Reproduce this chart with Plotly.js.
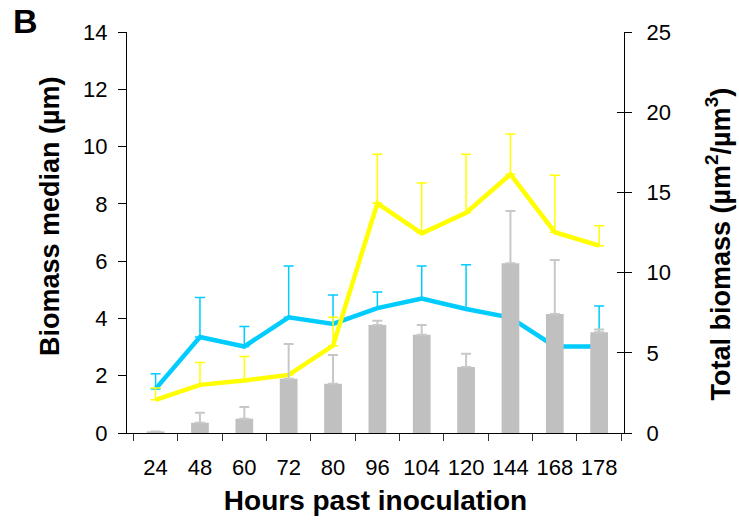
<!DOCTYPE html>
<html>
<head>
<meta charset="utf-8">
<script src="https://cdn.plot.ly/plotly-3.0.1.min.js"></script>
<style>html,body{margin:0;padding:0;background:#fff;}#chart{width:739px;height:528px;}</style>
</head>
<body>
<div id="chart"></div>
<script>
// Categories: hours past inoculation
var hours = ["24", "48", "60", "72", "80", "96", "104", "120", "144", "168", "178"];

// Total biomass (right axis, grey bars) and upper error
var totalBiomass    = [0.10, 0.64, 0.89, 3.38, 3.07, 6.74, 6.12, 4.11, 10.58, 7.42, 6.28];
var totalBiomassErr = [0.00, 0.62, 0.73, 2.17, 1.80, 0.26, 0.62, 0.83, 3.26, 3.37, 0.17];

// Biomass median (left axis), cyan series and upper error
var medianCyan    = [1.54, 3.35, 3.02, 4.04, 3.81, 4.36, 4.69, 4.33, 4.03, 3.02, 3.02];
var medianCyanErr = [0.53, 1.38, 0.70, 1.79, 1.01, 0.56, 1.14, 1.54, 1.39, 0.00, 1.41];

// Biomass median (left axis), yellow series and upper error
var medianYellow    = [1.16, 1.68, 1.83, 2.03, 3.05, 8.02, 6.97, 7.69, 9.03, 7.01, 6.54];
var medianYellowErr = [0.41, 0.78, 0.84, 0.00, 0.99, 1.71, 1.76, 2.04, 1.41, 1.99, 0.70];

// Text
var xTitle = "Hours past inoculation";
var yTitleLeft = "Biomass median (µm)";
var yTitleRight = "Total biomass (µm<sup>2</sup>/µm<sup>3</sup>)";
var panelLabel = "B";

function zeros(n){ var a=[]; for(var i=0;i<n;i++) a.push(0); return a; }

var traces = [
  {
    type: "bar", x: hours, y: totalBiomass, yaxis: "y2",
    marker: {color: "#C0C0C0"},
    error_y: {type: "data", symmetric: false, array: totalBiomassErr, arrayminus: zeros(hours.length),
              color: "#C8C8C8", thickness: 2, width: 5},
    hoverinfo: "skip", showlegend: false
  },
  {
    type: "scatter", mode: "lines", x: hours, y: medianCyan, yaxis: "y",
    line: {color: "#00CCFF", width: 4.5},
    error_y: {type: "data", symmetric: false, array: medianCyanErr, arrayminus: zeros(hours.length),
              color: "#00CCFF", thickness: 1.5, width: 5},
    hoverinfo: "skip", showlegend: false
  },
  {
    type: "scatter", mode: "lines", x: hours, y: medianYellow, yaxis: "y",
    line: {color: "#FFFF00", width: 4.5},
    error_y: {type: "data", symmetric: false, array: medianYellowErr, arrayminus: zeros(hours.length),
              color: "#FFFF00", thickness: 1.5, width: 5},
    hoverinfo: "skip", showlegend: false
  },
  {
    type: "scatter", mode: "markers", x: [hours[0]], y: [null], yaxis: "y3",
    hoverinfo: "skip", showlegend: false
  }
];

var fontFam = "Liberation Sans, Arial, sans-serif";

var layout = {
  width: 739, height: 528,
  margin: {l: 127, r: 115, t: 32, b: 95, pad: 0},
  paper_bgcolor: "#fff", plot_bgcolor: "#fff",
  font: {family: fontFam, color: "#000", size: 22},
  bargap: 0.6,
  showlegend: false,
  xaxis: {
    type: "category", tickson: "boundaries", tickangle: 0,
    ticks: "outside", ticklen: 7, tickwidth: 1, tickcolor: "#333",
    showline: true, linecolor: "#000", linewidth: 1,
    showgrid: false, zeroline: false,
    tickfont: {size: 22, family: fontFam},
    ticklabelstandoff: 15,
    title: {text: "<b>" + xTitle + "</b>", font: {size: 28, family: fontFam}, standoff: 10},
    automargin: false
  },
  yaxis: {
    range: [0, 14], dtick: 2, tick0: 0,
    ticks: "outside", ticklen: 8, tickwidth: 1, tickcolor: "#000",
    showline: true, linecolor: "#000", linewidth: 1,
    showgrid: false, zeroline: false,
    tickfont: {size: 22, family: fontFam},
    ticklabelstandoff: 6,
    automargin: false
  },
  yaxis2: {
    overlaying: "y", side: "right",
    range: [0, 25], dtick: 5, tick0: 0,
    ticks: "outside", ticklen: 7, tickwidth: 1, tickcolor: "#000",
    showline: true, linecolor: "#000", linewidth: 1,
    showgrid: false, zeroline: false,
    tickfont: {size: 22, family: fontFam},
    ticklabelstandoff: 10,
    automargin: false
  },
  yaxis3: {
    overlaying: "y", side: "right",
    range: [0, 25], dtick: 5, tick0: 0,
    ticks: "inside", ticklen: 7, tickwidth: 1, tickcolor: "#000",
    showline: false, showgrid: false, zeroline: false,
    showticklabels: false, automargin: false
  },
  annotations: [
    {text: "<b>" + panelLabel + "</b>", xref: "paper", yref: "paper", x: -0.233, y: 1.027,
     xanchor: "left", yanchor: "middle", showarrow: false,
     font: {size: 34, family: fontFam, color: "#000"}},
    {text: "<b>" + yTitleLeft + "</b>", xref: "paper", yref: "paper", x: -0.155, y: 0.541,
     xanchor: "center", yanchor: "middle", textangle: -90, showarrow: false,
     font: {size: 27, family: fontFam, color: "#000"}},
    {text: "<b>" + yTitleRight + "</b>", xref: "paper", yref: "paper", x: 1.19, y: 0.471,
     xanchor: "center", yanchor: "middle", textangle: -90, showarrow: false,
     font: {size: 27, family: fontFam, color: "#000"}}
  ]
};

Plotly.newPlot("chart", traces, layout, {displayModeBar: false, staticPlot: true});
</script>
</body>
</html>
